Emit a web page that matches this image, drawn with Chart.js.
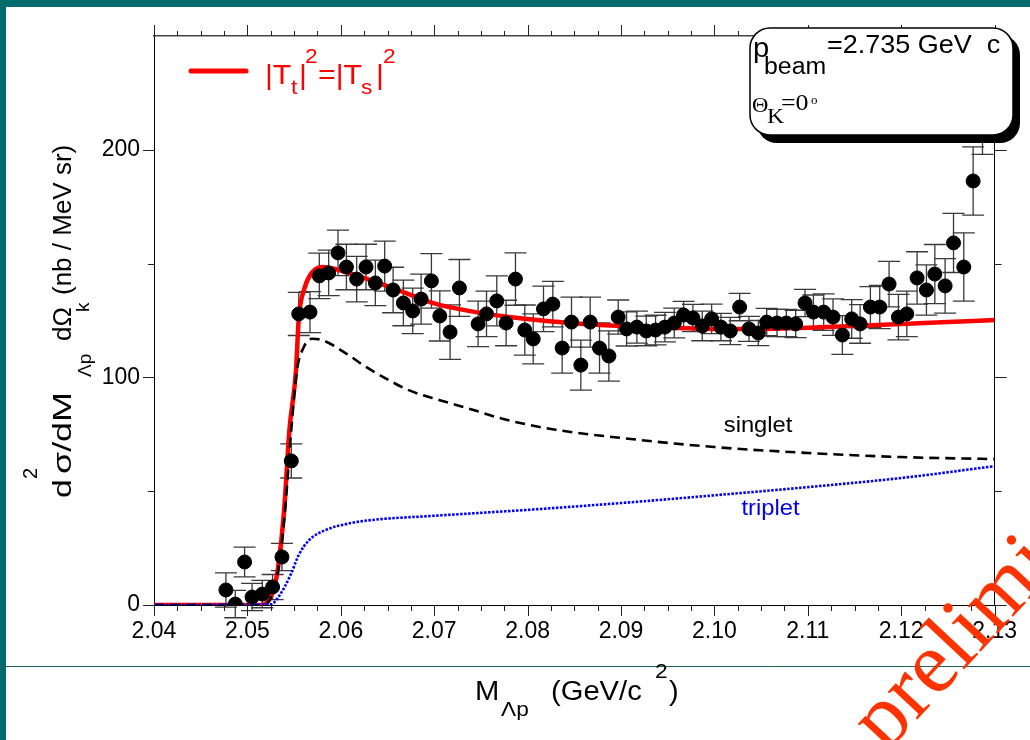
<!DOCTYPE html>
<html>
<head>
<meta charset="utf-8">
<script src="https://cdn.jsdelivr.net/npm/chart.js@4.4.1/dist/chart.umd.min.js"></script>
<style>
  html, body { margin: 0; padding: 0; background: #fff; }
  #wrap { position: relative; width: 1030px; height: 740px; overflow: hidden; }
  canvas { display: block; }
</style>
</head>
<body>
<div id="wrap"><canvas id="chart" width="1030" height="740"></canvas></div>
<script>
// measured points: M(Lambda p) in GeV/c^2, cross section in nb/(MeV sr)
const massPoints = [2.0477, 2.0487, 2.0497, 2.0505, 2.0516, 2.0527, 2.0537, 2.0547, 2.0555, 2.0567,
  2.0577, 2.0587, 2.0597, 2.0606, 2.0617, 2.0627, 2.0637, 2.0647, 2.0656, 2.0667,
  2.0677, 2.0686, 2.0697, 2.0706, 2.0717, 2.0727, 2.0747, 2.0756, 2.0767, 2.0777,
  2.0787, 2.0797, 2.0806, 2.0817, 2.0827, 2.0837, 2.0847, 2.0857, 2.0867, 2.0877,
  2.0887, 2.0897, 2.0906, 2.0917, 2.0927, 2.0937, 2.0947, 2.0957, 2.0967, 2.0977,
  2.0987, 2.0997, 2.1007, 2.1017, 2.1027, 2.1037, 2.1047, 2.1056, 2.1067, 2.1077,
  2.1087, 2.1097, 2.1106, 2.1117, 2.1127, 2.1137, 2.1147, 2.1156, 2.1167, 2.1177,
  2.1187, 2.1197, 2.1206, 2.1217, 2.1227, 2.1236, 2.1247, 2.1256, 2.1267, 2.1277,
  2.1287];
const xsecPoints = [6.6, 0.4, 18.9, 3.5, 4.8, 7.9, 21.1, 63.3, 127.9, 128.7,
  144.6, 145.9, 154.7, 148.5, 143.2, 148.5, 141.5, 148.9, 138.4, 132.7,
  129.2, 134.4, 142.4, 127.0, 119.9, 139.3, 123.5, 127.9, 133.6, 123.9,
  143.2, 120.8, 116.9, 130.1, 132.2, 112.9, 124.3, 105.4, 124.3, 112.9,
  109.4, 126.5, 121.3, 122.1, 120.4, 120.8, 122.1, 123.9, 127.4, 126.1,
  122.6, 125.7, 122.1, 120.4, 130.9, 121.3, 119.5, 124.3, 123.9, 123.9,
  123.5, 132.7, 128.7, 128.7, 126.5, 118.6, 125.7, 123.5, 130.9, 130.9,
  141.0, 126.5, 127.9, 143.7, 138.4, 145.4, 140.2, 159.1, 148.5, 186.3,
  222];
const xsecErrors = [7.5, 6, 6.5, 6, 6, 5.5, 6, 7.5, 9.5, 9,
  10, 10, 10, 10, 10, 10, 10, 11, 10, 10,
  10, 11, 12, 11, 12, 12.5, 10, 10, 11, 10,
  11.5, 11, 11, 10, 10, 11, 11, 11, 11, 11,
  11, 7.5, 7.5, 7, 6.5, 6.5, 6.5, 6.5, 6, 6,
  6.5, 6.5, 6, 6, 6, 5.5, 5.5, 6, 6, 6,
  6, 6, 7.5, 8, 8, 8.5, 8.5, 8.5, 9, 9.5,
  10, 10, 10, 11.5, 11, 13, 12, 13, 15, 15,
  24];

// calculation |Tt|^2 = |Ts|^2 (total)
const fitMass = [2.04, 2.0515, 2.0521, 2.0529, 2.0533, 2.0539, 2.0545, 2.0552, 2.0555, 2.0561,
  2.0569, 2.058, 2.0595, 2.0615, 2.064, 2.067, 2.07, 2.074, 2.078, 2.082,
  2.086, 2.09, 2.095, 2.10, 2.105, 2.11, 2.115, 2.12, 2.125, 2.13];
const fitTotal = [0, 0, 1, 8, 17, 40, 77, 103, 126, 139,
  146, 148.5, 147.5, 145, 141.5, 137, 132.5, 129, 126.5, 124.8,
  123.5, 122.6, 121.8, 121.3, 121.3, 121.8, 122.6, 123.5, 124.3, 125.2];

// singlet part
const singletMass = [2.04, 2.0515, 2.0522, 2.0529, 2.0534, 2.054, 2.0547, 2.0553, 2.056, 2.0569,
  2.058, 2.0605, 2.0627, 2.0651, 2.0672, 2.0706, 2.0742, 2.0774, 2.083, 2.09,
  2.10, 2.11, 2.12, 2.13];
const singletXsec = [0, 0, 1, 8, 18, 40, 77, 103, 113, 117,
  116.4, 110.7, 104.6, 98.9, 94.5, 90, 85.7, 81.7, 77, 73.4,
  69.4, 66.8, 65, 64.1];

// triplet part
const tripletMass = [2.04, 2.0525, 2.0534, 2.0546, 2.0555, 2.0566, 2.0584, 2.0611, 2.0632, 2.07,
  2.08, 2.09, 2.10, 2.11, 2.12, 2.13];
const tripletXsec = [0, 0.3, 4, 13, 22, 28.5, 33, 36, 37.3, 39.2,
  41.8, 44.8, 48.2, 51.8, 55.8, 61];

const xTicks = [2.04, 2.05, 2.06, 2.07, 2.08, 2.09, 2.10, 2.11, 2.12, 2.13];
const yTicks = [0, 100, 200];
const yMinorTicks = [50, 150];

const SANS = '"Liberation Sans", Arial, sans-serif';
const SERIF = '"Liberation Serif", "Times New Roman", serif';

const toXY = (xs, ys) => xs.map((v, i) => ({ x: v, y: ys[i] }));

// draw a piece of text, slightly stretched like the original slide
function txt(ctx, s, x, y, size, color, family, sx) {
  ctx.save();
  ctx.font = size + 'px ' + (family || SANS);
  ctx.fillStyle = color || '#000';
  ctx.textAlign = 'left';
  ctx.textBaseline = 'alphabetic';
  ctx.translate(x, y);
  ctx.scale(sx || 1.08, 1);
  ctx.fillText(s, 0, 0);
  ctx.restore();
}

const errorBars = {
  id: 'errorBars',
  beforeDatasetsDraw(chart) {
    const { ctx, scales: { x, y } } = chart;
    ctx.save();
    ctx.strokeStyle = '#3a3a3a';
    ctx.lineWidth = 1.3;
    massPoints.forEach((m, i) => {
      const px = x.getPixelForValue(m);
      const lo = y.getPixelForValue(xsecPoints[i] - xsecErrors[i]);
      const hi = y.getPixelForValue(xsecPoints[i] + xsecErrors[i]);
      ctx.beginPath();
      ctx.moveTo(px, lo); ctx.lineTo(px, hi);
      ctx.moveTo(px - 11, lo); ctx.lineTo(px + 11, lo);
      ctx.moveTo(px - 11, hi); ctx.lineTo(px + 11, hi);
      ctx.stroke();
    });
    ctx.restore();
  }
};

const decorations = {
  id: 'decorations',
  beforeDraw(chart) {
    const { ctx } = chart;
    ctx.save();
    // slide frame
    ctx.fillStyle = '#006b6b';
    ctx.fillRect(0, 0, 1030, 7);
    ctx.fillRect(0, 0, 6, 740);
    ctx.strokeStyle = '#1d5e5e';
    ctx.lineWidth = 1;
    ctx.beginPath(); ctx.moveTo(0, 666.5); ctx.lineTo(1030, 666.5); ctx.stroke();
    ctx.restore();
  },
  afterDraw(chart) {
    const { ctx, chartArea: a, scales: { x, y } } = chart;
    ctx.save();

    // tick marks (outward), major long / minor short
    ctx.strokeStyle = '#222';
    ctx.lineWidth = 1;
    const tick = (x1, y1, x2, y2) => { ctx.beginPath(); ctx.moveTo(x1, y1); ctx.lineTo(x2, y2); ctx.stroke(); };
    xTicks.forEach((v, i) => {
      const px = Math.round(x.getPixelForValue(v)) + 0.5;
      tick(px, a.bottom, px, a.bottom + 11);
      tick(px, a.top, px, a.top - 11);
      if (i < xTicks.length - 1) {
        for (let k = 1; k < 4; k++) {
          const m = v + (xTicks[i + 1] - v) * k / 4;
          const pm = Math.round(x.getPixelForValue(m)) + 0.5;
          tick(pm, a.bottom, pm, a.bottom + 6);
          tick(pm, a.top, pm, a.top - 5);
        }
      }
    });
    yTicks.forEach(v => {
      const py = Math.round(y.getPixelForValue(v)) + 0.5;
      tick(a.left, py, a.left - 11, py);
      tick(a.right, py, a.right + 12, py);
    });
    yMinorTicks.forEach(v => {
      const py = Math.round(y.getPixelForValue(v)) + 0.5;
      tick(a.left, py, a.left - 6, py);
      tick(a.right, py, a.right + 7, py);
    });

    // curve labels, anchored in data coordinates
    txt(ctx, 'singlet', x.getPixelForValue(2.1010), y.getPixelForValue(76), 22, '#000');
    txt(ctx, 'triplet', x.getPixelForValue(2.1029), y.getPixelForValue(39.5), 22, '#0000ee');

    // legend
    ctx.strokeStyle = '#ff0000';
    ctx.lineWidth = 5;
    ctx.lineCap = 'round';
    ctx.beginPath(); ctx.moveTo(191, 71); ctx.lineTo(246, 71); ctx.stroke();
    const red = '#ff0000';
    txt(ctx, '|T', 265, 84, 28, red);
    txt(ctx, 't', 291, 94, 21, red);
    txt(ctx, '|', 299, 84, 28, red);
    txt(ctx, '2', 305, 63, 21, red);
    txt(ctx, '=|T', 318, 84, 28, red);
    txt(ctx, 's', 361, 94, 21, red);
    txt(ctx, '|', 376, 84, 28, red);
    txt(ctx, '2', 383, 63, 21, red);

    // info box with shadow
    ctx.fillStyle = '#000';
    ctx.beginPath(); ctx.roundRect(757, 35, 263, 108, 20); ctx.fill();
    ctx.fillStyle = '#fff';
    ctx.strokeStyle = '#000';
    ctx.lineWidth = 1.5;
    ctx.beginPath(); ctx.roundRect(750, 28, 263, 107, 20); ctx.fill(); ctx.stroke();
    txt(ctx, 'p', 753, 57, 27, '#000');
    txt(ctx, 'beam', 764, 74, 23, '#000');
    txt(ctx, '=2.735 GeV  c', 827, 53, 25, '#000');
    txt(ctx, '\u0398', 752, 112, 21, '#000', SERIF);
    txt(ctx, 'K', 767, 123, 22, '#000', SERIF);
    txt(ctx, '=0', 781, 110, 24, '#000', SERIF);
    txt(ctx, 'o', 811, 104, 12, '#000', SERIF);

    // x axis title
    txt(ctx, 'M', 475, 700, 27, '#000');
    txt(ctx, '\u039Bp', 501, 716, 21, '#000');
    txt(ctx, '(GeV/c', 551, 700, 27, '#000');
    txt(ctx, '2', 655, 678, 21, '#000');
    txt(ctx, ')', 669, 700, 27, '#000');

    // y axis title (rotated, reads upwards): [text, start y, baseline x, size, stretch]
    const yseg = [
      ['d', 498, 71, 26, 1.3], ['2', 479, 37, 20, 1], ['\u03C3/dM', 474, 71, 26, 1.38],
      ['\u039Bp', 377, 91, 19, 1], ['d\u03A9', 341, 71, 26, 1], ['k', 312, 89, 19, 1],
      ['(nb / MeV sr)', 295, 71, 26, 1]
    ];
    yseg.forEach(([s, py, bx, size, sx]) => {
      ctx.save();
      ctx.translate(bx, py);
      ctx.rotate(-Math.PI / 2);
      txt(ctx, s, 0, 0, size, '#000', SANS, sx);
      ctx.restore();
    });

    // watermark
    ctx.save();
    ctx.translate(886, 753);
    ctx.rotate(-47 * Math.PI / 180);
    ctx.font = '88px ' + SERIF;
    ctx.fillStyle = '#ff3300';
    ctx.fillText('preliminary', 0, 0);
    ctx.restore();

    ctx.restore();
  }
};

Chart.defaults.font.family = SANS;

new Chart(document.getElementById('chart'), {
  type: 'scatter',
  data: {
    datasets: [
      {
        label: 'data',
        data: toXY(massPoints, xsecPoints),
        backgroundColor: '#000',
        borderColor: '#000',
        pointRadius: 7,
        pointHoverRadius: 7,
        order: 0
      },
      {
        label: 'triplet',
        data: toXY(tripletMass, tripletXsec),
        showLine: true,
        borderColor: '#0000ee',
        borderWidth: 2.6,
        borderDash: [2.5, 1.5],
        pointRadius: 0,
        cubicInterpolationMode: 'monotone',
        order: 1
      },
      {
        label: 'singlet',
        data: toXY(singletMass, singletXsec),
        showLine: true,
        borderColor: '#000',
        borderWidth: 2.6,
        borderDash: [10, 6],
        pointRadius: 0,
        cubicInterpolationMode: 'monotone',
        order: 2
      },
      {
        label: '|Tt|^2=|Ts|^2',
        data: toXY(fitMass, fitTotal),
        showLine: true,
        borderColor: '#ff0000',
        borderWidth: 4.5,
        pointRadius: 0,
        cubicInterpolationMode: 'monotone',
        order: 3
      }
    ]
  },
  options: {
    responsive: false,
    animation: false,
    layout: { padding: 0 },
    plugins: { legend: { display: false }, tooltip: { enabled: false } },
    scales: {
      x: {
        type: 'linear', position: 'bottom', min: 2.04, max: 2.13,
        afterBuildTicks: s => { s.ticks = xTicks.map(v => ({ value: v })); },
        afterFit: s => { s.height = 135; },
        grid: { display: false, drawTicks: false },
        border: { display: true, color: '#000', width: 1 },
        ticks: {
          padding: 13, color: '#000', maxRotation: 0, autoSkip: false,
          font: { family: SANS, size: 23 },
          callback: v => v.toFixed(2)
        }
      },
      x2: {
        type: 'linear', position: 'top', min: 2.04, max: 2.13,
        afterFit: s => { s.height = 36; },
        grid: { display: false, drawTicks: false },
        border: { display: true, color: '#444', width: 1.5 },
        ticks: { display: false }
      },
      y: {
        type: 'linear', position: 'left', min: 0, max: 250,
        afterBuildTicks: s => { s.ticks = yTicks.map(v => ({ value: v })); },
        afterFit: s => { s.width = 154; },
        grid: { display: false, drawTicks: false },
        border: { display: true, color: '#000', width: 1 },
        ticks: { padding: 14, color: '#000', font: { family: SANS, size: 23 } }
      },
      y2: {
        type: 'linear', position: 'right', min: 0, max: 250,
        afterFit: s => { s.width = 30; },
        grid: { display: false, drawTicks: false },
        border: { display: true, color: '#000', width: 1 },
        ticks: { display: false }
      }
    }
  },
  plugins: [errorBars, decorations]
});
</script>
</body>
</html>
